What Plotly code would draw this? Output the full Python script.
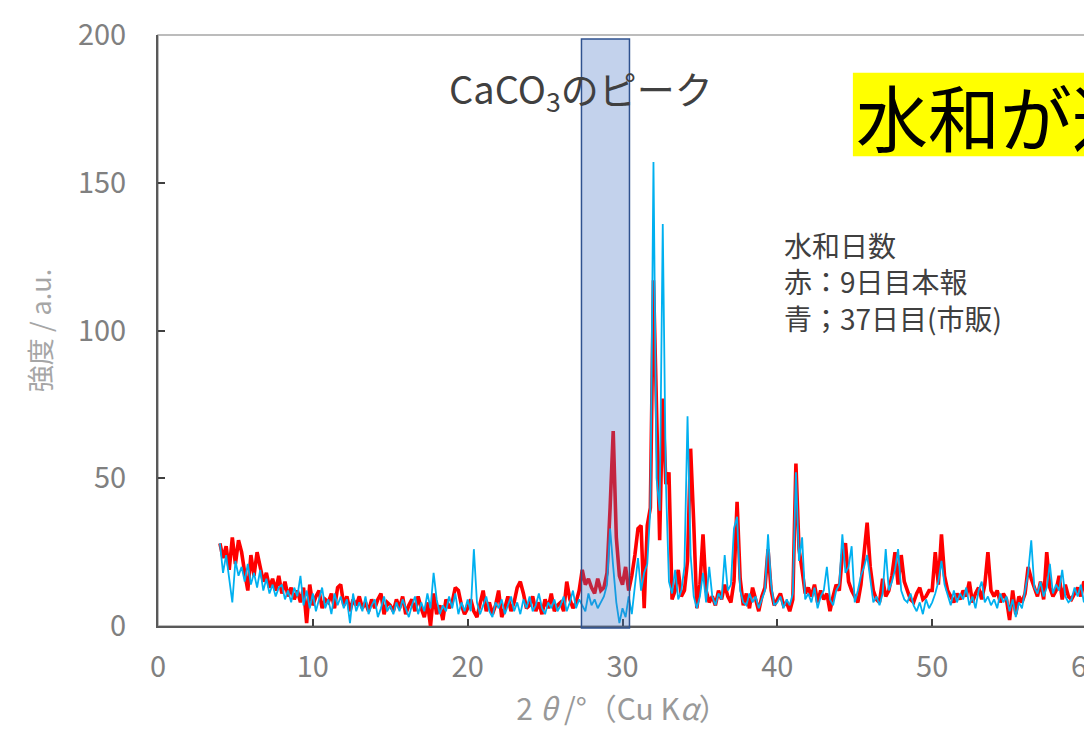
import numpy as np
import plotly.graph_objects as go

# 2θ scan grid (degrees)
two_theta_start = 4.0
two_theta_step = 0.2

# 赤：9日目本報 (red)
red_9days = [
    28,23,27,19,30, 21,29,25,18,12, 24,17,25,20,15, 18,13,16,12,17,
    11,15,10,13,9, 12,8,13,1,14, 7,10,12,6,9, 8,11,6,13,14,
    7,10,5,9,7, 10,6,8,5,9, 6,9,11,4,8, 7,5,9,6,10,
    4,7,9,5,10, 6,3,8,0,11, 4,7,2,9,6, 8,13,12,7,4,
    6,9,5,3,7, 12,5,8,4,7, 12,3,6,10,5, 8,13,15,11,6,
    7,10,5,8,4, 9,6,11,5,7, 8,5,15,9,6, 8,12,19,14,16,
    13,11,16,12,13, 18,40,66,30,17, 14,20,12,17,24, 33,34,6,34,40,
    117,75,29,77,48, 52,9,12,19,10, 12,22,60,35,6, 14,31,12,8,10,
    7,12,9,14,10, 8,15,42,16,7, 11,6,13,9,5, 10,13,26,12,7,
    9,11,7,8,5, 9,55,26,19,11, 13,10,14,8,12, 9,11,5,10,14,
    12,24,28,15,12, 10,8,14,24,35, 20,12,9,8,16, 10,12,17,25,14,
    24,15,12,9,8, 11,13,9,10,12, 12,25,14,31,17, 12,10,8,11,9,
    12,10,15,8,11, 13,9,14,25,12, 10,12,8,11,9, 2,12,4,10,8,
    11,20,16,13,10, 15,9,25,13,10, 12,17,9,14,10, 9,11,13,10,15,
    14,
]

# 青；37日目(市販) (blue)
blue_37days = [
    28,18,24,16,8, 22,17,20,15,21, 14,18,13,19,12, 16,11,14,10,13,
    14,9,12,8,13, 10,17,7,12,6, 11,5,9,13,6, 9,4,11,7,10,
    6,9,1,11,5, 8,5,10,4,7, 9,3,6,10,5, 7,4,8,5,9,
    6,3,7,10,4, 8,5,11,6,18, 9,4,7,5,10, 6,11,4,8,5,
    9,5,26,8,4, 7,10,5,3,8, 6,9,4,7,10, 5,8,4,9,6,
    10,5,7,11,6, 4,8,6,9,5, 7,10,5,8,12, 6,9,7,5,11,
    7,9,6,8,10, 14,33,20,8,1, 6,3,10,4,14, 23,12,18,21,40,
    157,50,39,136,49, 15,11,19,9,12, 20,71,24,10,6, 10,18,8,20,10,
    7,11,9,24,12, 14,33,37,12,8, 7,11,8,10,6, 9,12,31,14,7,
    8,10,6,9,7, 11,52,22,30,9, 11,8,13,6,10, 12,20,9,7,12,
    14,31,18,20,27, 8,12,17,20,24, 15,8,10,7,11, 26,12,15,19,26,
    12,9,8,11,7, 5,8,4,9,6, 8,11,15,22,14, 10,7,12,8,11,
    9,13,7,10,6, 12,15,8,10,7, 9,6,11,8,10, 5,9,3,8,6,
    12,18,29,13,11, 15,10,13,21,11, 14,12,19,10,8, 9,13,10,14,8,
    12,
]

two_theta = np.round(two_theta_start + two_theta_step * np.arange(len(red_9days)), 2)

x_ticks = [0, 10, 20, 30, 40, 50, 60]
y_ticks = [0, 50, 100, 150, 200]
caco3_band = [27.35, 30.45]

FONT = "Noto Sans CJK JP"

fig = go.Figure()
fig.add_trace(go.Scatter(x=two_theta, y=red_9days, mode="lines",
                         line=dict(color="#FF0000", width=3.6), name="赤：9日目本報"))
fig.add_trace(go.Scatter(x=two_theta, y=blue_37days, mode="lines",
                         line=dict(color="#00B0F0", width=1.8), name="青；37日目(市販)"))

# plot frame (top/right lighter)
fig.add_shape(type="rect", xref="paper", yref="paper", x0=0, x1=1, y0=0, y1=1,
              line=dict(color="#A6A6A6", width=1.5), fillcolor="rgba(0,0,0,0)", layer="below")

# CaCO3 band
fig.add_shape(type="rect", xref="x", yref="paper",
              x0=caco3_band[0], x1=caco3_band[1], y0=-0.0034, y1=0.9932,
              line=dict(color="#2F528F", width=1.5),
              fillcolor="rgba(68,114,196,0.32)", layer="above")

# yellow box
fig.add_shape(type="rect", xref="paper", yref="paper",
              x0=0.748, x1=1.2, y0=0.795, y1=0.936,
              line=dict(width=0), fillcolor="#FFFF00", layer="above")

fig.add_annotation(xref="paper", yref="paper", x=0.749, y=0.866,
                   xanchor="left", yanchor="middle", showarrow=False,
                   text="水和が進行", font=dict(family=FONT, size=72, color="#000000"))

fig.add_annotation(xref="x", yref="y", x=18.65, y=181.4,
                   xanchor="left", yanchor="middle", showarrow=False,
                   text="CaCO<sub>3</sub>のピーク",
                   font=dict(family=FONT, size=38, color="#404040"))

fig.add_annotation(xref="paper", yref="paper", x=0.6717, y=0.583,
                   xanchor="left", yanchor="middle", showarrow=False, align="left",
                   text="水和日数<br>赤：9日目本報<br>青；37日目(市販)",
                   font=dict(family=FONT, size=28, color="#404040"))

fig.update_layout(
    width=1084, height=730,
    margin=dict(l=150, r=5, t=27, b=112, autoexpand=False),
    paper_bgcolor="white", plot_bgcolor="white",
    showlegend=False,
    font=dict(family=FONT, color="#808080"),
    xaxis=dict(range=[0, 60], tickvals=x_ticks, ticks="inside", ticklen=7,
               tickcolor="#404040", tickwidth=1.5, automargin=False,
               showline=True, linecolor="#595959", linewidth=2,
               showgrid=False, zeroline=False,
               tickfont=dict(family=FONT, size=29, color="#808080"),
               ticklabelstandoff=14, ticklabeloverflow="allow",
               title=dict(text="2 <i>θ</i> /°（Cu K<i>α</i>）",
                          font=dict(family=FONT, size=30, color="#999999"), standoff=10)),
    yaxis=dict(range=[0, 200], tickvals=y_ticks, ticks="inside", ticklen=7,
               tickcolor="#404040", tickwidth=1.5, automargin=False,
               showline=True, linecolor="#595959", linewidth=2,
               showgrid=False, zeroline=False,
               tickfont=dict(family=FONT, size=29, color="#808080"),
               ticklabelstandoff=24,
               title=dict(text="強度 / a.u.",
                          font=dict(family=FONT, size=27, color="#A6A6A6"), standoff=18)),
)

fig.write_html("out.html")
